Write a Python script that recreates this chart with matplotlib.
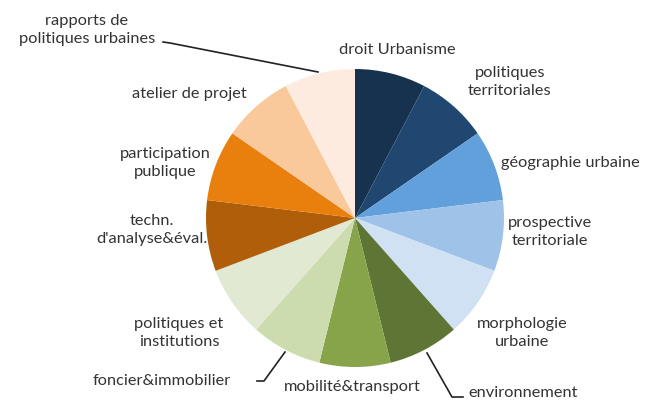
import matplotlib
matplotlib.use("Agg")
import matplotlib.pyplot as plt

labels = ["droit Urbanisme", "politiques\nterritoriales", "géographie urbaine",
          "prospective\nterritoriale", "morphologie\nurbaine", "environnement",
          "mobilité&transport", "foncier&immobilier", "politiques et\ninstitutions",
          "techn.\nd'analyse&éval.", "participation\npublique", "atelier de projet",
          "rapports de\npolitiques urbaines"]
values = [1] * 13
colors = ["#16324f", "#1f4770", "#62a0dc", "#9fc3e8", "#d0e1f4",
          "#5f7535", "#88a44b", "#cddcae", "#e1e9d2",
          "#b05e09", "#e97f0c", "#f9c89b", "#fdebdf"]

# label centres in pixel coords (y from top)
label_pos = [(397, 50), (510, 82), (570, 163), (550, 232), (522, 333),
             (523, 393), (352, 387), (162, 381), (179, 333),
             (152, 230), (165, 163), (189, 94), (87, 30)]

W, H = 646, 403
fig = plt.figure(figsize=(W / 100, H / 100), dpi=100)
ax = fig.add_axes([0, 0, 1, 1])

ax.pie(values, colors=colors, startangle=90, counterclock=False,
       center=(355, H - 218), radius=149, frame=True,
       wedgeprops=dict(linewidth=0))
ax.set_xlim(0, W)
ax.set_ylim(0, H)
ax.set_aspect("equal")
ax.axis("off")

for lab, (x, y) in zip(labels, label_pos):
    ax.text(x, H - y, lab, ha="center", va="center", fontsize=11.8,
            family="Lato", color="#333333", linespacing=1.4)

# leader lines
lc = dict(color="#222222", lw=1.2)
ax.plot([163, 170, 318], [H - 42, H - 43, H - 72], **lc)
ax.plot([257, 264, 285], [H - 381, H - 381, H - 352], **lc)
ax.plot([427, 452, 463], [H - 353, H - 397, H - 397], **lc)

fig.savefig("out.png", dpi=100)
